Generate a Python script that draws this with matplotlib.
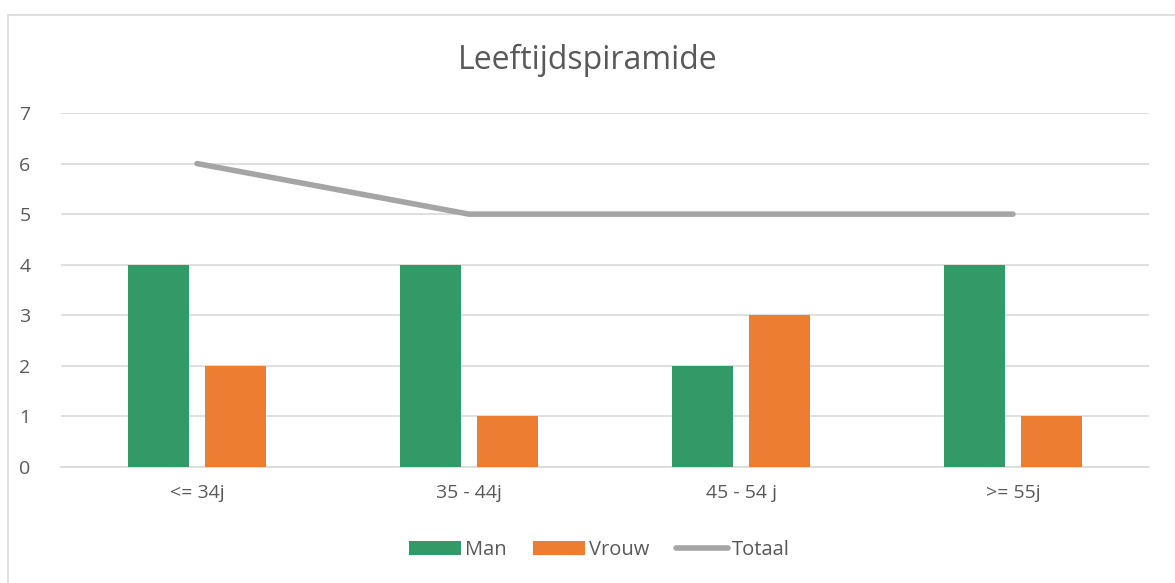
import numpy as np
import matplotlib.pyplot as plt
from matplotlib.patches import Rectangle

categories = ["<= 34j", "35 - 44j", "45 - 54 j", ">= 55j"]
man = [4, 4, 2, 4]
vrouw = [2, 1, 3, 1]
totaal = [6, 5, 5, 5]

plt.rcParams['font.family'] = ['Open Sans', 'DejaVu Sans']
text_col = '#595959'

fig = plt.figure(figsize=(11.75, 5.83), dpi=100)
ax = fig.add_axes([61/1175, 1 - 467/583, 1088/1175, 354/583])

# chart border
fig.patches.append(Rectangle((8/1175, -0.01), 1.2, 1 - 15/583 + 0.01,
                             transform=fig.transFigure, fill=False,
                             edgecolor='#d9d9d9', linewidth=1.2))

x = np.arange(len(categories))
w = 0.224
b1 = ax.bar(x - 0.1425, man, w, color='#339966', label='Man', zorder=3)
b2 = ax.bar(x + 0.1425, vrouw, w, color='#ED7D31', label='Vrouw', zorder=3)
l1, = ax.plot(x, totaal, color='#A5A5A5', linewidth=4, solid_capstyle='round',
              label='Totaal', zorder=4)

ax.set_xlim(-0.5, 3.5)
ax.set_ylim(0, 7)
ax.set_yticks(range(8))
ax.set_xticks(x)
ax.set_xticklabels(categories)
ax.grid(axis='y', color='#d9d9d9', linewidth=1.2, zorder=0)
for s in ['top', 'right', 'left']:
    ax.spines[s].set_visible(False)
ax.spines['bottom'].set_color('#d9d9d9')
ax.spines['bottom'].set_linewidth(1.2)
ax.tick_params(axis='both', length=0, labelsize=14, labelcolor=text_col)
ax.tick_params(axis='y', pad=22)
ax.tick_params(axis='x', pad=12)

fig.text(0.5, 1 - 60/583, "Leeftijdspiramide", ha='center', va='center',
         fontsize=23, color=text_col)

leg = fig.legend([b1, b2, l1], ['Man', 'Vrouw', 'Totaal'], loc='center',
                 bbox_to_anchor=(0.51, 1 - 550/583), ncol=3,
                 frameon=False, fontsize=14.5, handlelength=2.6,
                 handletextpad=0.2, columnspacing=1.3)
for t in leg.get_texts():
    t.set_color(text_col)

fig.savefig("out.png", dpi=100)
